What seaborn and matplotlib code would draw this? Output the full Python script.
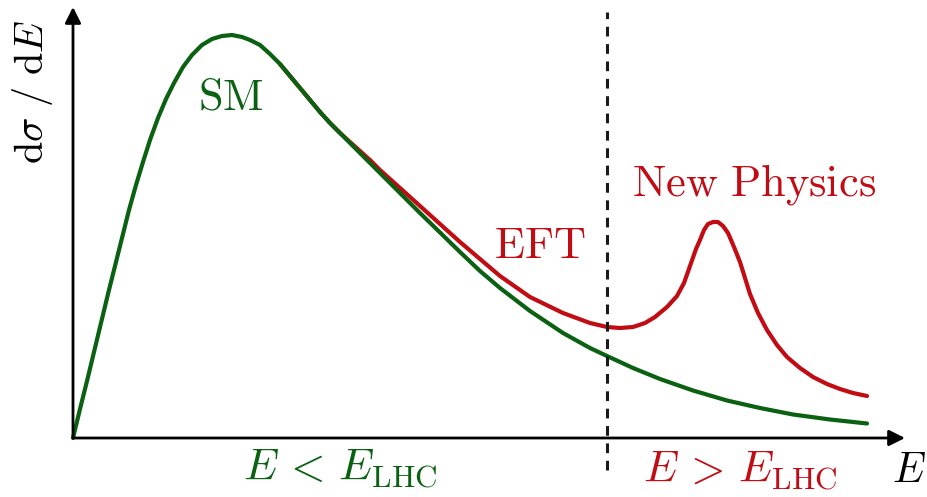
import matplotlib
matplotlib.use("Agg")
import matplotlib.pyplot as plt
import seaborn as sns

# energy (arbitrary units) and d(sigma)/dE (arbitrary units)
sm_E = [0.0, 0.7, 1.4, 2.1, 2.8, 3.5, 4.2, 4.9, 5.6, 6.3, 7.0, 7.7, 8.5, 9.3,
        10.1, 11.0, 11.9, 12.9, 13.9, 14.9, 15.9, 16.9, 17.7, 18.7, 19.7, 20.7,
        21.7, 22.7, 23.7, 24.7, 25.7, 26.7, 27.7, 28.7, 29.7, 30.7, 31.7, 32.7,
        34.7, 36.7, 38.7, 40.7, 42.7, 45.7, 49.0, 51.7, 53.4, 56.0, 58.7, 62.0,
        65.4, 68.7, 72.0, 75.7, 79.4]
sm_xsec = [0.0, 2.9, 5.7, 8.6, 11.5, 14.4, 17.2, 20.0, 22.8, 25.3, 27.6, 29.8,
           32.0, 33.9, 35.5, 37.1, 38.3, 39.3, 39.9, 40.2, 40.3, 40.1, 39.8, 39.3,
           38.4, 37.4, 36.2, 35.0, 33.8, 32.6, 31.5, 30.5, 29.5, 28.5, 27.5, 26.5,
           25.5, 24.5, 22.5, 20.55, 18.6, 16.7, 15.0, 12.7, 10.5, 9.0, 8.2, 7.0,
           5.9, 4.75, 3.75, 3.0, 2.35, 1.85, 1.45]

np_E = [20.7, 21.7, 22.7, 23.7, 24.7, 25.7, 26.7, 27.7, 28.7, 29.7, 30.7, 31.7,
        32.7, 34.7, 36.7, 38.7, 40.7, 42.7, 45.7, 49.0, 51.7, 53.4, 54.7, 56.0,
        57.2, 58.2, 59.4, 60.4, 61.1, 61.7, 62.3, 62.7, 63.1, 63.5, 64.0, 64.5,
        65.0, 65.5, 66.1, 66.7, 67.2, 67.7, 68.5, 69.4, 70.4, 71.4, 72.7, 74.0,
        75.4, 76.7, 78.0, 79.4]
np_xsec = [37.4, 36.2, 35.0, 33.8, 32.6, 31.5, 30.5, 29.6, 28.7, 27.8, 26.8, 25.9,
           25.0, 23.2, 21.4, 19.6, 17.9, 16.2, 14.1, 12.5, 11.5, 11.1, 11.0, 11.1,
           11.5, 12.1, 13.1, 14.2, 15.5, 17.2, 18.9, 19.8, 20.8, 21.4, 21.6, 21.6,
           21.2, 20.5, 19.1, 17.6, 16.0, 14.4, 12.5, 10.8, 9.3, 8.1, 7.0, 6.1,
           5.4, 4.9, 4.5, 4.2]

E_LHC = 53.4
E_max = 83.2
xsec_max = 43.1

green = "#0b6112"
red = "#c20c14"

sns.set_style("white")
plt.rcParams["mathtext.fontset"] = "cm"
plt.rcParams["font.family"] = ["DejaVu Serif"]
plt.rcParams["lines.scale_dashes"] = False

fig = plt.figure(figsize=(9.27, 4.97), dpi=100)
ax = fig.add_axes([0, 0, 1, 1])

sns.lineplot(x=np_E, y=np_xsec, sort=False, estimator=None, color=red, lw=3.0, ax=ax)
sns.lineplot(x=sm_E, y=sm_xsec, sort=False, estimator=None, color=green, lw=3.0, ax=ax)

# boundary of the LHC reach
ax.vlines(E_LHC, -3.2, 42.6, colors="#1a1a1a", lw=2.2, linestyles=(0, (7, 5.5)))

# axes drawn as arrows
arrow = dict(arrowstyle="-|>", color="black", lw=2.0, mutation_scale=24,
             shrinkA=0, shrinkB=0)
ax.annotate("", xy=(E_max, 0), xytext=(0, 0), arrowprops=arrow)
ax.annotate("", xy=(0, xsec_max), xytext=(0, 0), arrowprops=arrow)

fs = 32
ax.text(15.8, 32.8, r"$\mathrm{SM}$", color=green, fontsize=fs, ha="center", va="baseline")
ax.text(46.7, 18.0, r"$\mathrm{EFT}$", color=red, fontsize=fs, ha="center", va="baseline")
ax.text(68.1, 24.2, r"$\mathrm{New\ Physics}$", color=red, fontsize=fs, ha="center", va="baseline")
ax.text(26.7, -4.2, r"$E\,<\,E_{\mathrm{LHC}}$", color=green, fontsize=fs, ha="center", va="baseline")
ax.text(66.7, -4.4, r"$E\,>\,E_{\mathrm{LHC}}$", color=red, fontsize=fs, ha="center", va="baseline")
ax.text(81.9, -4.4, r"$E$", color="black", fontsize=30, ha="left", va="baseline")
ax.text(-4.0, 34.6, r"$\mathrm{d}\sigma\ /\ \mathrm{d}E$", color="black", fontsize=29,
        rotation=90, ha="center", va="center")

ax.set_xlim(-7.3, 85.4)
ax.set_ylim(-5.9, 43.8)
ax.set_xlabel("")
ax.set_ylabel("")
ax.set_xticks([])
ax.set_yticks([])
sns.despine(ax=ax, left=True, bottom=True)

fig.savefig("out.png", dpi=100)
